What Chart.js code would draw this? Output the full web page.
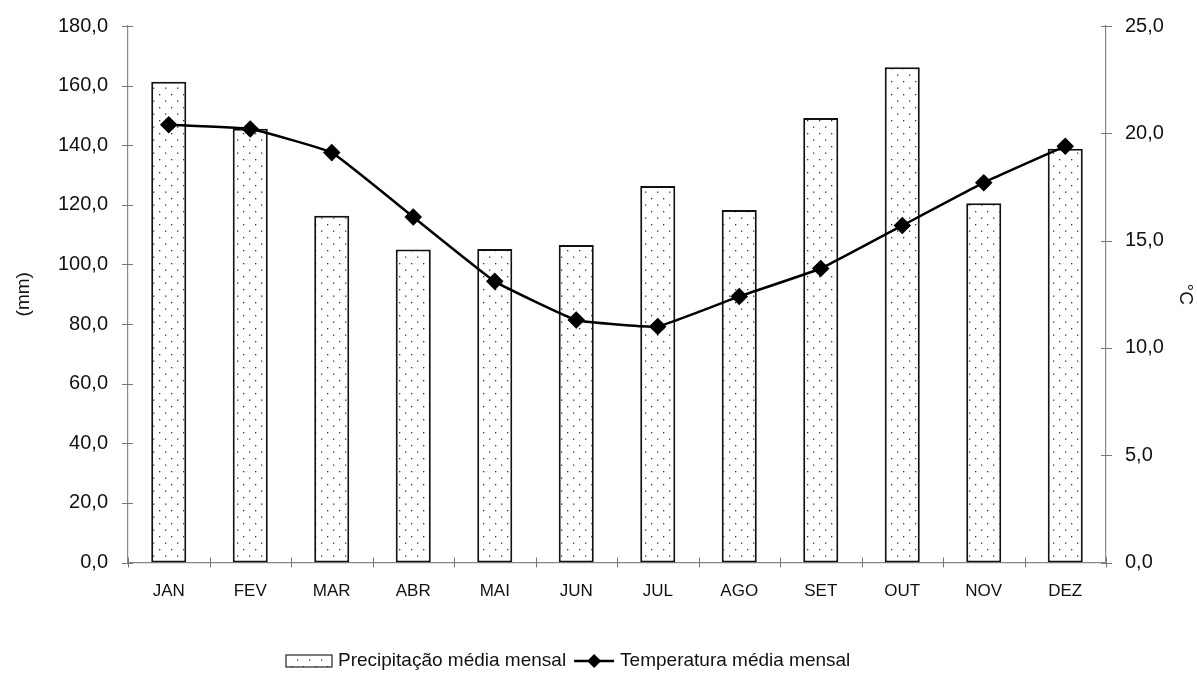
<!DOCTYPE html>
<html>
<head>
<meta charset="utf-8">
<script src="https://cdn.jsdelivr.net/npm/chart.js@4/dist/chart.umd.min.js"></script>
<style>
  html, body { margin: 0; padding: 0; background: #fff; }
  #wrap { width: 1197px; height: 675px; position: relative; }
</style>
</head>
<body>
<div id="wrap"><canvas id="c" width="1197" height="675"></canvas></div>
<script>
// Monthly climate normals
const months = ['JAN', 'FEV', 'MAR', 'ABR', 'MAI', 'JUN', 'JUL', 'AGO', 'SET', 'OUT', 'NOV', 'DEZ'];
const precipitation = [161.3, 145.5, 116.3, 105.0, 105.2, 106.5, 126.3, 118.3, 149.1, 166.2, 120.5, 138.8];
const temperature = [20.4, 20.2, 19.1, 16.1, 13.1, 11.3, 11.0, 12.4, 13.7, 15.7, 17.7, 19.4];
const precipLabel = 'Precipitação média mensal';
const tempLabel = 'Temperatura média mensal';

const FONT = '"Liberation Sans", Arial, sans-serif';
const fmt = v => v.toFixed(1).replace('.', ',');

// Stippled fill for the rainfall bars
function dotPattern() {
  const p = document.createElement('canvas');
  p.width = 12; p.height = 13;
  const g = p.getContext('2d');
  g.fillStyle = '#fff';
  g.fillRect(0, 0, 12, 13);
  g.fillStyle = '#333';
  g.fillRect(3, 3, 1.3, 1.3);
  g.fillRect(9, 9.5, 1.3, 1.3);
  return document.getElementById('c').getContext('2d').createPattern(p, 'repeat');
}
const pattern = dotPattern();

// Tick marks crossing the axis lines, plus the bottom legend
const axisDecor = {
  id: 'axisDecor',
  afterDraw(chart) {
    const ctx = chart.ctx;
    const a = chart.chartArea;
    ctx.save();
    ctx.strokeStyle = '#777';
    ctx.lineWidth = 1;
    const y = chart.scales.y, y2 = chart.scales.y2;
    ctx.beginPath();
    y.ticks.forEach((t, i) => {
      const py = Math.round(y.getPixelForTick(i)) + 0.5;
      ctx.moveTo(a.left - 6, py); ctx.lineTo(a.left + 5, py);
    });
    y2.ticks.forEach((t, i) => {
      const py = Math.round(y2.getPixelForTick(i)) + 0.5;
      ctx.moveTo(a.right - 5, py); ctx.lineTo(a.right + 6, py);
    });
    for (let i = 0; i <= months.length; i++) {
      const px = Math.round(a.left + (a.right - a.left) * i / months.length) + 0.5;
      ctx.moveTo(px, a.bottom - 5); ctx.lineTo(px, a.bottom + 5);
    }
    ctx.stroke();

    // Legend
    const ly = 661;
    ctx.font = '19px ' + FONT;
    ctx.textBaseline = 'middle';
    ctx.fillStyle = pattern;
    ctx.fillRect(286, ly - 6, 46, 12);
    ctx.strokeStyle = '#222';
    ctx.lineWidth = 1.2;
    ctx.strokeRect(286, ly - 6, 46, 12);
    ctx.fillStyle = '#111';
    ctx.fillText(precipLabel, 338, ly);
    const w1 = ctx.measureText(precipLabel).width;
    const lx = 338 + w1 + 8;
    ctx.strokeStyle = '#000';
    ctx.lineWidth = 2.5;
    ctx.beginPath(); ctx.moveTo(lx, ly); ctx.lineTo(lx + 40, ly); ctx.stroke();
    ctx.beginPath();
    ctx.moveTo(lx + 20, ly - 7); ctx.lineTo(lx + 27, ly); ctx.lineTo(lx + 20, ly + 7); ctx.lineTo(lx + 13, ly);
    ctx.closePath(); ctx.fillStyle = '#000'; ctx.fill();
    ctx.fillStyle = '#111';
    ctx.fillText(tempLabel, lx + 46, ly);
    ctx.restore();
  }
};

new Chart(document.getElementById('c'), {
  data: {
    labels: months,
    datasets: [
      {
        type: 'line',
        label: tempLabel,
        data: temperature,
        yAxisID: 'y2',
        borderColor: '#000',
        borderWidth: 2.5,
        pointStyle: 'rectRot',
        pointRadius: 7,
        pointBackgroundColor: '#000',
        pointBorderColor: '#000',
        tension: 0.1,
        order: 0
      },
      {
        type: 'bar',
        label: precipLabel,
        data: precipitation,
        yAxisID: 'y',
        backgroundColor: pattern,
        borderColor: '#111',
        borderWidth: 2,
        borderSkipped: false,
        categoryPercentage: 1,
        barPercentage: 0.43,
        order: 1
      }
    ]
  },
  options: {
    responsive: false,
    animation: false,
    layout: { padding: { top: 26, left: 0, right: 0, bottom: 0 } },
    plugins: { legend: { display: false }, tooltip: { enabled: false } },
    scales: {
      x: {
        grid: { display: false },
        border: { color: '#888', width: 1.2 },
        ticks: { color: '#111', font: { family: FONT, size: 17 }, padding: 11 },
        afterFit(s) { s.height = 112.5; }
      },
      y: {
        position: 'left',
        min: 0, max: 180,
        ticks: { stepSize: 20, color: '#111', font: { family: FONT, size: 20 }, padding: 12, callback: v => fmt(v) },
        grid: { display: false },
        border: { color: '#888', width: 1.2 },
        title: { display: true, text: '(mm)', color: '#111', font: { family: FONT, size: 19 }, padding: { top: 12, bottom: 0 } },
        afterFit(s) { s.width = 128; }
      },
      y2: {
        position: 'right',
        min: 0, max: 25,
        ticks: { stepSize: 5, color: '#111', font: { family: FONT, size: 20 }, padding: 11, callback: v => fmt(v) },
        grid: { display: false },
        border: { color: '#888', width: 1.2 },
        title: { display: true, text: '°C', color: '#111', font: { family: FONT, size: 19 }, padding: { top: 0, bottom: 10 } },
        afterFit(s) { s.width = 91; }
      }
    }
  },
  plugins: [axisDecor]
});
</script>
</body>
</html>
